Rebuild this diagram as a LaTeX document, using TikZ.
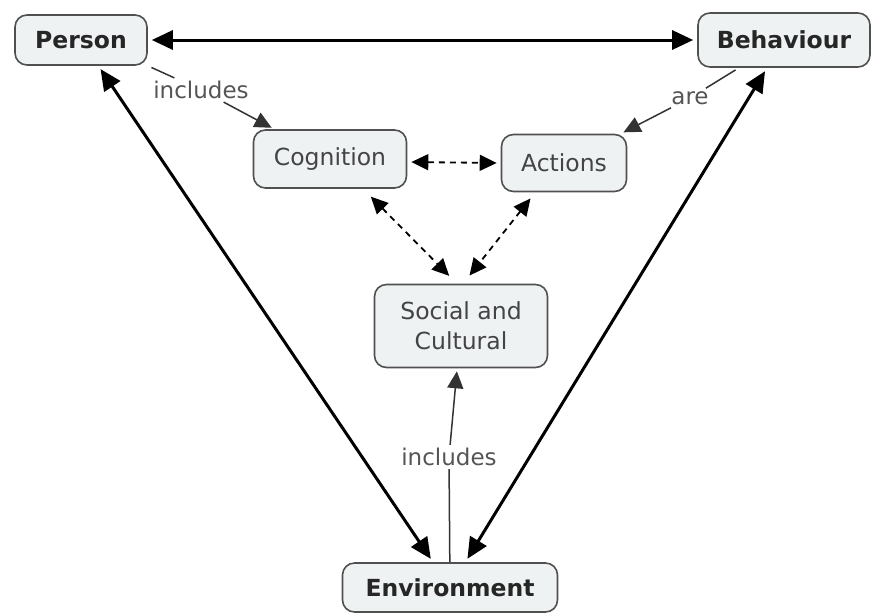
\documentclass[tikz,border=0pt]{standalone}
\usepackage{fontspec}
\setmainfont{DejaVu Sans}
\usetikzlibrary{arrows.meta,calc}
\definecolor{boxfill}{HTML}{EEF2F3}
\definecolor{boxline}{HTML}{505050}
\definecolor{txt}{HTML}{444444}
\definecolor{lbl}{HTML}{555555}
\begin{document}
\begin{tikzpicture}[x=1pt,y=-1pt,
  concept/.style={draw=boxline,line width=1.6pt,rounded corners=12pt,fill=boxfill,
    inner sep=0pt,align=center,font=\fontsize{23.5}{30}\selectfont,text=txt},
  keyc/.style={concept,font=\fontsize{23.5}{30}\selectfont\bfseries,text=black!85},
  linklbl/.style={inner sep=3pt,font=\fontsize{23}{28}\selectfont,text=lbl},
  bigarrow/.style={line width=3pt,{Triangle[length=21pt,width=19pt]}-{Triangle[length=21pt,width=19pt]},shorten <=4pt,shorten >=4pt},
  dasharrow/.style={line width=1.8pt,dashed,dash pattern=on 6pt off 5pt,{Triangle[length=17pt,width=16pt]}-{Triangle[length=17pt,width=16pt]},shorten <=4pt,shorten >=4pt},
  thinline/.style={line width=1.5pt,draw=black!80},
  thinarrow/.style={thinline,-{Triangle[length=17pt,width=16pt]},shorten >=3pt}
]
\useasboundingbox (0,0) rectangle (874,614);
\node[keyc,minimum width=132pt,minimum height=50pt] (person) at (81,40) {Person};
\node[keyc,minimum width=172pt,minimum height=54pt] (beh) at (784,40) {Behaviour};
\node[concept,minimum width=153pt,minimum height=58pt] (cog) at (330,159) {Cognition};
\node[concept,minimum width=125pt,minimum height=57pt] (act) at (564,163) {Actions};
\node[concept,minimum width=173pt,minimum height=83pt] (soc) at (461,326) {Social and\\Cultural};
\node[keyc,minimum width=215pt,minimum height=49pt] (env) at (450,587.5) {Environment};

\node[linklbl] (inc1) at (201,90) {includes};
\node[linklbl] (are) at (690,98) {are};
\node[linklbl] (inc2) at (449,457) {includes};

\draw[bigarrow] (person.east) -- (beh.west);
\draw[bigarrow] (person) -- (env);
\draw[bigarrow] (beh) -- (env);

\draw[dasharrow] ($(cog.east)+(0,3)$) -- (act.west);
\draw[dasharrow] ($(cog.south)+(38,5)$) -- ($(soc.north)+(-9,-5)$);
\draw[dasharrow] ($(act.south)+(-31,3)$) -- ($(soc.north)+(6,-5)$);

\draw[thinline,shorten <=4pt] (person.south east) -- (inc1);
\draw[thinarrow] (inc1) -- (cog);
\draw[thinline,shorten <=4pt] (beh) -- (are);
\draw[thinarrow] (are) -- (act);
\draw[thinline] (env) -- (inc2);
\draw[thinarrow] (inc2) -- (soc);
\end{tikzpicture}
\end{document}
